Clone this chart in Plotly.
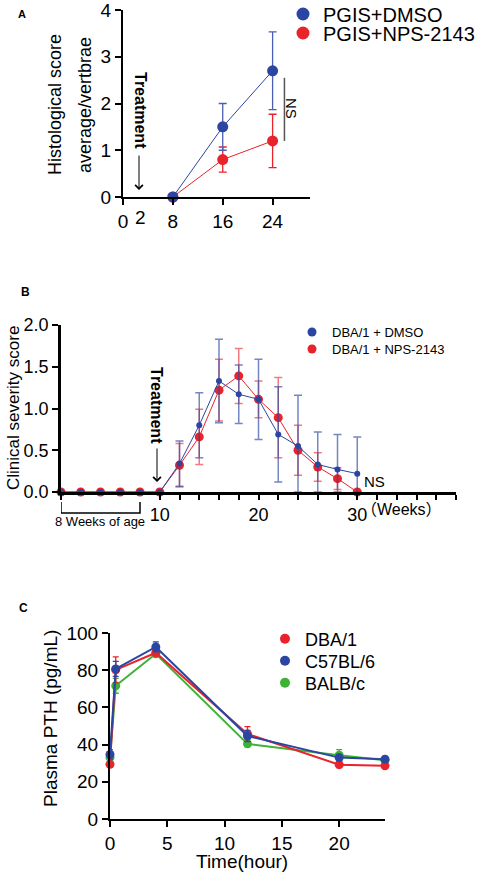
import plotly.graph_objects as go

W, H = 478, 875
FONT = "Arial, Liberation Sans, sans-serif"

# ---------------- DATA ----------------
# Panel A
weeks_a = [8, 16, 24]
dmso_a = [0.0, 1.5, 2.7]
dmso_a_err = [0.0, 0.5, 0.83]
nps_a = [0.0, 0.8, 1.2]
nps_a_err = [0.0, 0.27, 0.57]

# Panel B
weeks_b = [0, 2, 4, 6, 8, 10, 12, 14, 16, 18, 20, 22, 24, 26, 28, 30]
dmso_b = [0, 0, 0, 0, 0, 0, 0.34, 0.80, 1.33, 1.17, 1.11, 0.69, 0.55, 0.33, 0.27, 0.22]
dmso_b_err = [0, 0, 0, 0, 0, 0, 0.27, 0.39, 0.50, 0.35, 0.48, 0.57, 0.61, 0.39, 0.42, 0.44]
nps_b = [0, 0, 0, 0, 0, 0, 0.32, 0.66, 1.22, 1.39, 1.11, 0.89, 0.50, 0.30, 0.16, 0.0]
nps_b_err = [0, 0, 0, 0, 0, 0, 0.26, 0.33, 0.37, 0.33, 0.22, 0.48, 0.30, 0.17, 0.13, 0.0]

# Panel C
hours_c = [0, 0.5, 4, 12, 20, 24]
dba_c = [29.4, 80.2, 89.4, 45.7, 29.2, 28.6]
dba_c_err = [1.5, 7.0, 1.5, 4.0, 1.5, 1.0]
c57_c = [34.7, 80.7, 92.5, 44.6, 33.0, 32.1]
c57_c_err = [2.5, 4.0, 2.7, 3.0, 1.5, 1.0]
balb_c = [33.0, 71.6, 88.8, 40.4, 34.3, 31.6]
balb_c_err = [2.0, 4.0, 1.5, 1.5, 3.0, 1.0]

BLUE = "#2a46a2"
RED = "#e8232b"
GREEN = "#3db234"
BLUE_E = "rgba(42,70,162,0.65)"
RED_E = "rgba(232,35,43,0.6)"


def px(x):
    return x / W


def py(y):
    return 1 - y / H


def clip_minus(vals, errs):
    return [min(v, e) for v, e in zip(vals, errs)]


fig = go.Figure()

# ---------- Panel A ----------
fig.add_trace(go.Scatter(
    x=weeks_a, y=nps_a, mode="lines+markers", name="PGIS+NPS-2143",
    line=dict(color=RED, width=1), marker=dict(color=RED, size=11),
    error_y=dict(type="data", array=nps_a_err, color=RED, thickness=1.3, width=4),
    xaxis="x", yaxis="y", cliponaxis=False, showlegend=False))
fig.add_trace(go.Scatter(
    x=weeks_a, y=dmso_a, mode="lines+markers", name="PGIS+DMSO",
    line=dict(color=BLUE, width=1), marker=dict(color=BLUE, size=11),
    error_y=dict(type="data", array=dmso_a_err, color="#4a60b4", thickness=1.3, width=4),
    xaxis="x", yaxis="y", cliponaxis=False, showlegend=False))

# ---------- Panel B ----------
fig.add_trace(go.Scatter(
    x=weeks_b, y=nps_b, mode="lines+markers", name="DBA/1 + NPS-2143",
    line=dict(color=RED, width=1), marker=dict(color=RED, size=9),
    error_y=dict(type="data", array=nps_b_err, arrayminus=clip_minus(nps_b, nps_b_err),
                 color=RED_E, thickness=1.5, width=4),
    xaxis="x2", yaxis="y2", cliponaxis=False, showlegend=False))
fig.add_trace(go.Scatter(
    x=weeks_b, y=dmso_b, mode="lines+markers", name="DBA/1 + DMSO",
    line=dict(color=BLUE, width=1), marker=dict(color=BLUE, size=6),
    error_y=dict(type="data", array=dmso_b_err, arrayminus=clip_minus(dmso_b, dmso_b_err),
                 color=BLUE_E, thickness=1.5, width=4),
    xaxis="x2", yaxis="y2", cliponaxis=False, showlegend=False))

# ---------- Panel C ----------
for yv, err, col, nm in [(balb_c, balb_c_err, GREEN, "BALB/c"),
                         (dba_c, dba_c_err, RED, "DBA/1"),
                         (c57_c, c57_c_err, BLUE, "C57BL/6")]:
    fig.add_trace(go.Scatter(
        x=hours_c, y=yv, mode="lines+markers", name=nm,
        line=dict(color=col, width=2), marker=dict(color=col, size=9),
        error_y=dict(type="data", array=err, color=col, thickness=1.3, width=3),
        xaxis="x3", yaxis="y3", cliponaxis=False, showlegend=False))

# ---------- Legend entries (one legend per entry for exact spacing) ----------
# (label, colour, marker size, legend id, legend left px, item centre y px, font size)
legend_items = [
    ("PGIS+DMSO", BLUE, 13, "legend", 283, 14, 20),
    ("PGIS+NPS-2143", RED, 13, "legend2", 283, 33, 20),
    ("DBA/1 + DMSO", BLUE, 9, "legend3", 292, 332, 13),
    ("DBA/1 + NPS-2143", RED, 9, "legend4", 292, 349, 13),
    ("DBA/1", RED, 10, "legend5", 265, 639, 18),
    ("C57BL/6", BLUE, 10, "legend6", 265, 661, 18),
    ("BALB/c", GREEN, 10, "legend7", 265, 683, 18),
]
leg_layout = {}
for name, col, size, lg, lx, my, fs in legend_items:
    fig.add_trace(go.Scatter(x=[None], y=[None], mode="markers", name=name,
                             marker=dict(color=col, size=size), legend=lg,
                             showlegend=True, xaxis="x", yaxis="y"))
    leg_layout[lg] = dict(x=px(lx), y=py(my), xanchor="left", yanchor="middle",
                          bgcolor="rgba(0,0,0,0)", borderwidth=0, itemwidth=30,
                          font=dict(family=FONT, size=fs, color="black"))

axis_common = dict(showline=True, linecolor="black", showgrid=False, zeroline=False,
                   ticks="outside", tickcolor="black", mirror=False,
                   ticklabeloverflow="allow")

fig.update_layout(
    width=W, height=H, margin=dict(l=0, r=0, t=0, b=0, autoexpand=False),
    paper_bgcolor="white", plot_bgcolor="white",
    font=dict(family=FONT, color="black"),
    xaxis=dict(**axis_common, domain=[px(123), px(310)], range=[0, 30],
               tickvals=[0, 8, 16, 24], ticktext=["0", "8", "16", "24"],
               linewidth=2, tickwidth=2, ticklen=6,
               tickfont=dict(size=19), anchor="y"),
    yaxis=dict(**axis_common, domain=[py(197), py(10)], range=[0, 4], dtick=1,
               linewidth=2, tickwidth=2, ticklen=6,
               tickfont=dict(size=19), anchor="x"),
    xaxis2=dict(**axis_common, domain=[px(61), px(456)], range=[0, 40],
                tickvals=[0, 10, 12, 14, 16, 18, 20, 22, 24, 26, 28, 30, 32, 34, 36, 38, 40],
                ticktext=["", "10", "", "", "", "", "20", "", "", "", "", "30", "", "", "", "", ""],
                linewidth=2.5, tickwidth=2, ticklen=5,
                tickfont=dict(size=18), anchor="y2"),
    yaxis2=dict(**axis_common, domain=[py(492), py(325)], range=[0, 2], dtick=0.5,
                tickformat=".1f", linewidth=2.5, tickwidth=2, ticklen=6,
                tickfont=dict(size=18), anchor="x2"),
    xaxis3=dict(**axis_common, domain=[px(110), px(385)], range=[0, 24],
                tickvals=[0, 5, 10, 15, 20], linewidth=2, tickwidth=2, ticklen=6,
                tickfont=dict(size=19), anchor="y3"),
    yaxis3=dict(**axis_common, domain=[py(819), py(633)], range=[0, 100], dtick=20,
                linewidth=2, tickwidth=2, ticklen=6,
                tickfont=dict(size=19), anchor="x3"),
    **leg_layout,
)

ann = []


def text(t, x, y, size, bold=False, angle=0, xanchor="center", yanchor="middle", family=FONT):
    ann.append(dict(text=f"<b>{t}</b>" if bold else t, x=px(x), y=py(y), xref="paper", yref="paper",
                    showarrow=False, textangle=angle, xanchor=xanchor, yanchor=yanchor,
                    font=dict(family=family, size=size, color="black")))


def arrow(x, y_tip, length):
    ann.append(dict(x=px(x), y=py(y_tip), xref="paper", yref="paper", ax=0, ay=-length,
                    showarrow=True, arrowhead=4, arrowsize=1.5, arrowwidth=1,
                    arrowcolor="black", text=""))


# Panel labels
text("A", 22, 14, 11, bold=True)
text("B", 25, 292, 12, bold=True)
text("C", 23, 608, 12, bold=True)

# Panel A texts
text("Histological score", 55, 105, 18, angle=-90)
text("average/vertbrae", 85, 105, 18, angle=-90)
text("2", 140, 218, 19)
text("Treatment", 140, 110, 16, bold=True, angle=90)
text("NS", 292, 108, 15, angle=90)
arrow(139, 190, 36)

# Panel B texts
text("Clinical severity score", 13, 408, 17, angle=-90)
text("Treatment", 157, 405, 16, bold=True, angle=90)
arrow(157, 482, 35)
text("NS", 374, 482, 15)
text("（Weeks）", 359, 509, 16, xanchor="left",
     family="Liberation Sans, Noto Sans CJK SC, sans-serif")
text("8 Weeks of age", 100, 521, 13)

# Panel C texts
text("Plasma PTH (pg/mL)", 50, 719, 19, angle=-90)
text("Time(hour)", 242, 861, 19)

fig.update_layout(annotations=ann)

# Shapes: NS bracket line (A) and "8 Weeks of age" bracket (B)
fig.add_shape(type="line", xref="x", yref="y", x0=25.9, x1=25.9, y0=1.2, y1=2.55,
              line=dict(color="#555555", width=1.5))
fig.add_shape(type="path", xref="x2", yref="paper",
              path=f"M 0,{py(502)} L 0,{py(513)} L 8,{py(513)} L 8,{py(502)}",
              line=dict(color="black", width=1.5))

# remove the browser's default 8px body margin so the figure fills the window
fig.write_html("out.html", config={"displayModeBar": False},
               post_script="document.body.style.margin='0px';")
